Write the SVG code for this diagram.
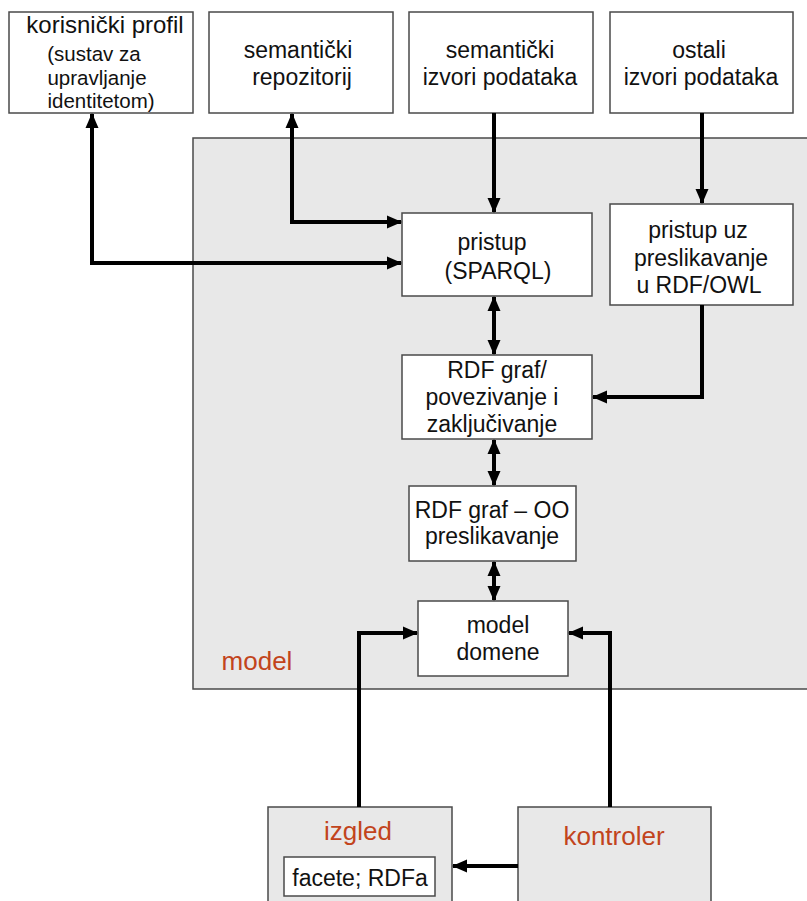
<svg xmlns="http://www.w3.org/2000/svg" width="807" height="901" viewBox="0 0 807 901">
<style>
.bg{fill:#ffffff}
.box{fill:#ffffff;stroke:#4a4a4a;stroke-width:1.5}
.gbox{fill:#e8e8e8;stroke:#4a4a4a;stroke-width:1.5}
.t{font-family:"Liberation Sans",Arial,sans-serif;font-size:23px;fill:#111;text-anchor:middle}
.s{font-size:20.5px}
.r{font-family:"Liberation Sans",Arial,sans-serif;font-size:26px;fill:#c2441c;text-anchor:middle}
.c{fill:none;stroke:#000;stroke-width:4;stroke-linejoin:miter}
</style>
<defs>
<marker id="ah" markerWidth="15" markerHeight="14" refX="14" refY="7" orient="auto-start-reverse" markerUnits="userSpaceOnUse">
<path d="M0,0.5 L15,7 L0,13.5 Z" fill="#000"/>
</marker>
</defs>
<rect class="bg" x="0" y="0" width="807" height="901"/>
<g id="model-container">
<rect class="gbox" x="193" y="138" width="620" height="551"/>
<text class="r" x="257" y="670">model</text>
</g>
<g id="korisnicki-profil">
<rect class="box" x="9" y="12" width="184" height="101"/>
<text class="t" x="105" y="33" style="font-size:24px">korisnički profil</text>
<text class="t s" x="94" y="61">(sustav za</text>
<text class="t s" x="97" y="85">upravljanje</text>
<text class="t s" x="101" y="108">identitetom)</text>
</g>
<g id="semanticki-repozitorij">
<rect class="box" x="209" y="12" width="184" height="101"/>
<text class="t" x="298" y="58">semantički</text>
<text class="t" x="302" y="85">repozitorij</text>
</g>
<g id="semanticki-izvori">
<rect class="box" x="409" y="12" width="184" height="101"/>
<text class="t" x="500" y="58">semantički</text>
<text class="t" x="500" y="85">izvori podataka</text>
</g>
<g id="ostali-izvori">
<rect class="box" x="610" y="12" width="183" height="101"/>
<text class="t" x="699" y="58">ostali</text>
<text class="t" x="701" y="85">izvori podataka</text>
</g>
<g id="pristup-sparql">
<rect class="box" x="402" y="213" width="190" height="83"/>
<text class="t" x="492" y="250">pristup</text>
<text class="t" x="498" y="279">(SPARQL)</text>
</g>
<g id="pristup-uz">
<rect class="box" x="610" y="204" width="183" height="101"/>
<text class="t" x="698" y="238">pristup uz</text>
<text class="t" x="701" y="266">preslikavanje</text>
<text class="t" x="699" y="293">u RDF/OWL</text>
</g>
<g id="rdf-graf">
<rect class="box" x="402" y="355" width="190" height="84"/>
<text class="t" x="497" y="378">RDF graf/</text>
<text class="t" x="492" y="405">povezivanje i</text>
<text class="t" x="492" y="432">zaključivanje</text>
</g>
<g id="rdf-oo">
<rect class="box" x="409" y="486" width="167" height="75"/>
<text class="t" x="492" y="518">RDF graf – OO</text>
<text class="t" x="492" y="544">preslikavanje</text>
</g>
<g id="model-domene">
<rect class="box" x="418" y="601" width="150" height="75"/>
<text class="t" x="498" y="633">model</text>
<text class="t" x="498" y="660">domene</text>
</g>
<g id="izgled">
<rect class="gbox" x="268" y="807" width="184" height="100"/>
<text class="r" x="358" y="840">izgled</text>
<rect class="box" x="284" y="857" width="151" height="39"/>
<text class="t" x="360" y="886">facete; RDFa</text>
</g>
<g id="kontroler">
<rect class="gbox" x="518" y="807" width="193" height="100"/>
<text class="r" x="614" y="845">kontroler</text>
</g>
<g id="connectors">
<polyline class="c" points="92,114 92,263 401,263" marker-start="url(#ah)" marker-end="url(#ah)"/>
<polyline class="c" points="292,114 292,222 401,222" marker-start="url(#ah)" marker-end="url(#ah)"/>
<line class="c" x1="494" y1="113" x2="494" y2="212" marker-end="url(#ah)"/>
<line class="c" x1="702" y1="113" x2="702" y2="203" marker-end="url(#ah)"/>
<polyline class="c" points="702,305 702,397 593,397" marker-end="url(#ah)"/>
<line class="c" x1="494" y1="297" x2="494" y2="354" marker-start="url(#ah)" marker-end="url(#ah)"/>
<line class="c" x1="494" y1="440" x2="494" y2="485" marker-start="url(#ah)" marker-end="url(#ah)"/>
<line class="c" x1="494" y1="562" x2="494" y2="600" marker-start="url(#ah)" marker-end="url(#ah)"/>
<polyline class="c" points="359,807 359,633 417,633" marker-end="url(#ah)"/>
<polyline class="c" points="610,807 610,633 569,633" marker-end="url(#ah)"/>
<line class="c" x1="518" y1="866" x2="453" y2="866" marker-end="url(#ah)"/>
</g>
</svg>
